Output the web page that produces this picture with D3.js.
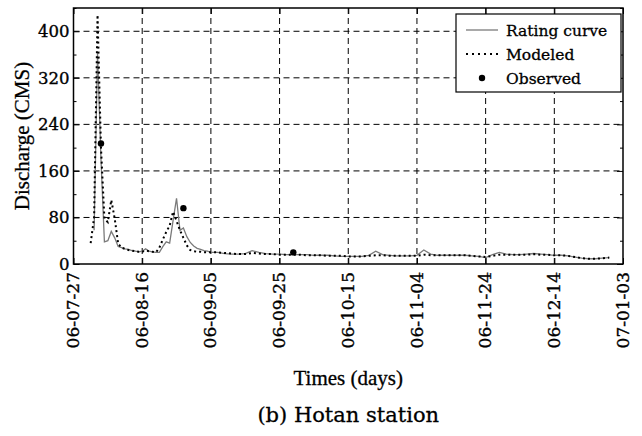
<!DOCTYPE html>
<html>
<head>
<meta charset="utf-8">
<script src="https://cdn.jsdelivr.net/npm/d3@7"></script>
<style>
  html, body { margin: 0; padding: 0; background: #fff; }
  svg { display: block; }
</style>
</head>
<body>
<svg id="chart" width="642" height="436"></svg>
<script>
// Hotan station daily discharge, days counted from 2006-07-27
const startDate = new Date(2006, 6, 27);

const dayOffsets = [
  5, 6, 7, 8, 9, 10, 11, 12, 13, 14, 15, 16, 17, 18, 19, 20, 21, 22, 23, 24,
  25, 26, 27, 28, 29, 30, 31, 32, 33, 34, 35, 36, 37, 38, 39, 40,
  42, 44, 46, 48, 50, 52, 54, 56, 58, 60, 62, 64, 66, 68, 70, 72, 74, 76, 78,
  80, 82, 84, 86, 88, 90, 92, 94, 96, 98, 100, 102, 104, 106, 108, 110, 112,
  114, 116, 118, 120, 122, 124, 126, 128, 130, 132, 134, 136, 138, 140, 142,
  144, 146, 148, 150, 152, 154, 156
];

const ratingCurve = [
  null, 58, 362, 180, 38, 40, 56, 45, 30, 28, 26, 25, 23, 22, 21, 22, 26, 22, 21, 20,
  20, 30, 38, 36, 75, 113, 58, 62, 47, 37, 31, 27, 25, 23, 22, 20,
  20, 18, 17, 17, 18, 23, 20, 18, 17, 17, 16, 16, 16, 16, 15, 15, 15, 14, 13,
  13, 13, 13, 15, 22, 16, 15, 14, 14, 14, 15, 24, 17, 15, 15, 15, 15,
  15, 14, 13, 11, 16, 20, 17, 16, 16, 17, 18, 17, 16, 15, 15,
  14, 12, 10, 9, 9, 10, 11
];

const modeled = [
  36, 80, 428, 200, 78, 72, 110, 78, 35, 28, 26, 24, 23, 22, 21, 21, 23, 22, 21, 20,
  28, 42, 55, 66, 90, 74, 58, 45, 32, 24, 22, 21, 21, 20, 20, 20,
  20, 19, 18, 17, 17, 19, 18, 17, 17, 16, 16, 16, 16, 15, 15, 15, 14, 14, 14,
  13, 13, 13, 14, 15, 15, 14, 14, 14, 14, 14, 16, 15, 15, 15, 15, 15,
  15, 14, 13, 12, 14, 16, 16, 16, 16, 16, 17, 16, 16, 15, 15,
  14, 12, 10, 9, 9, 10, 11
];

const observedDays = [8, 32, 64];
const observedValues = [207, 96, 20];

const tickDays = [0, 20, 40, 60, 80, 100, 120, 140, 160];
const yTicks = [0, 80, 160, 240, 320, 400];
const yMinorTicks = [40, 120, 200, 280, 360, 440];

const seriesNames = ["Rating curve", "Modeled", "Observed"];

const toDate = d => d3.timeDay.offset(startDate, d);

const plot = { left: 73.5, right: 623, top: 8, bottom: 264 };

const svg = d3.select("#chart");

const x = d3.scaleTime()
  .domain([toDate(0), toDate(160)])
  .range([plot.left, plot.right]);

const y = d3.scaleLinear()
  .domain([0, 440])
  .range([plot.bottom, plot.top]);

const fmt = d3.timeFormat("%y-%m-%d");
const tickDates = tickDays.map(toDate);

const serif = "'DejaVu Serif', serif";
const times = "'Liberation Serif', 'Times New Roman', serif";

// slightly heavier glyphs for the serif labels
const heavy = (sel, w) => sel.attr("stroke", "#000").attr("stroke-width", w).attr("paint-order", "stroke");

// grid
const grid = svg.append("g").attr("stroke", "#000").attr("stroke-width", 1)
  .attr("stroke-dasharray", "6,4").attr("fill", "none");
tickDates.slice(1, -1).forEach(d => {
  grid.append("line").attr("x1", x(d)).attr("x2", x(d))
    .attr("y1", plot.top).attr("y2", plot.bottom);
});
yTicks.slice(1).forEach(v => {
  grid.append("line").attr("x1", plot.left).attr("x2", plot.right)
    .attr("y1", y(v)).attr("y2", y(v));
});

// axes with inward ticks
const xBottom = svg.append("g")
  .attr("transform", `translate(0,${plot.bottom})`)
  .call(d3.axisBottom(x).tickValues(tickDates).tickFormat(fmt).tickSizeInner(-6).tickSizeOuter(0));
xBottom.select(".domain").remove();
xBottom.selectAll("line").attr("stroke", "#000");
xBottom.selectAll("text")
  .attr("font-family", serif).attr("font-size", 17).attr("fill", "#000")
  .attr("transform", "rotate(-90)")
  .attr("text-anchor", "end")
  .attr("x", -8).attr("y", 0).attr("dy", "0.3em")
  .call(heavy, 0.35);

const xTop = svg.append("g")
  .attr("transform", `translate(0,${plot.top})`)
  .call(d3.axisTop(x).tickValues(tickDates).tickFormat("").tickSizeInner(-6).tickSizeOuter(0));
xTop.select(".domain").remove();

const yLeft = svg.append("g")
  .attr("transform", `translate(${plot.left},0)`)
  .call(d3.axisLeft(y).tickValues(yTicks).tickSizeInner(-6).tickSizeOuter(0).tickPadding(4));
yLeft.select(".domain").remove();
yLeft.selectAll("text").attr("font-family", serif).attr("font-size", 16.5).attr("fill", "#000")
  .attr("x", -4)
  .call(heavy, 0.35);

const yLeftMinor = svg.append("g")
  .attr("transform", `translate(${plot.left},0)`)
  .call(d3.axisLeft(y).tickValues(yMinorTicks).tickFormat("").tickSizeInner(-3).tickSizeOuter(0));
yLeftMinor.select(".domain").remove();

const yRight = svg.append("g")
  .attr("transform", `translate(${plot.right},0)`)
  .call(d3.axisRight(y).tickValues(yTicks).tickFormat("").tickSizeInner(-6).tickSizeOuter(0));
yRight.select(".domain").remove();
const yRightMinor = svg.append("g")
  .attr("transform", `translate(${plot.right},0)`)
  .call(d3.axisRight(y).tickValues(yMinorTicks).tickFormat("").tickSizeInner(-3).tickSizeOuter(0));
yRightMinor.select(".domain").remove();

// series
const rows = dayOffsets.map((d, i) => ({ date: toDate(d), rating: ratingCurve[i], model: modeled[i] }));

svg.append("path")
  .datum(rows.filter(r => r.rating != null))
  .attr("fill", "none").attr("stroke", "#7a7a7a").attr("stroke-width", 1.3)
  .attr("d", d3.line().x(r => x(r.date)).y(r => y(r.rating)));

svg.append("path")
  .datum(rows.filter(r => r.model != null))
  .attr("fill", "none").attr("stroke", "#000").attr("stroke-width", 2)
  .attr("stroke-dasharray", "2,3")
  .attr("d", d3.line().x(r => x(r.date)).y(r => y(r.model)));

svg.append("g").selectAll("circle")
  .data(observedDays.map((d, i) => ({ date: toDate(d), v: observedValues[i] })))
  .join("circle")
  .attr("cx", r => x(r.date)).attr("cy", r => y(r.v)).attr("r", 3.2).attr("fill", "#000");

// frame
svg.append("rect")
  .attr("x", plot.left).attr("y", plot.top)
  .attr("width", plot.right - plot.left).attr("height", plot.bottom - plot.top)
  .attr("fill", "none").attr("stroke", "#000").attr("stroke-width", 1.5);

// legend
const lg = svg.append("g");
lg.append("rect").attr("x", 456).attr("y", 14).attr("width", 165).attr("height", 78)
  .attr("fill", "#fff").attr("stroke", "#000").attr("stroke-width", 1.2);
lg.append("line").attr("x1", 466).attr("x2", 498).attr("y1", 30).attr("y2", 30)
  .attr("stroke", "#7a7a7a").attr("stroke-width", 1.3);
lg.append("line").attr("x1", 466).attr("x2", 498).attr("y1", 54).attr("y2", 54)
  .attr("stroke", "#000").attr("stroke-width", 2).attr("stroke-dasharray", "2,4");
lg.append("circle").attr("cx", 482).attr("cy", 78).attr("r", 3.2).attr("fill", "#000");
seriesNames.forEach((name, i) => {
  lg.append("text").attr("x", 506).attr("y", 30 + i * 24).attr("dy", "0.36em")
    .attr("font-family", serif).attr("font-size", 15.5).attr("fill", "#000").text(name)
    .call(heavy, 0.3);
});

// axis titles
svg.append("text")
  .attr("transform", `translate(22,${(plot.top + plot.bottom) / 2}) rotate(-90)`)
  .attr("text-anchor", "middle").attr("dy", "0.35em")
  .attr("font-family", times).attr("font-size", 21).text("Discharge (CMS)")
  .call(heavy, 0.3);

svg.append("text")
  .attr("x", (plot.left + plot.right) / 2).attr("y", 385)
  .attr("text-anchor", "middle")
  .attr("font-family", times).attr("font-size", 21).text("Times (days)")
  .call(heavy, 0.3);

svg.append("text")
  .attr("x", (plot.left + plot.right) / 2).attr("y", 422)
  .attr("text-anchor", "middle")
  .attr("font-family", serif).attr("font-size", 21).text("(b) Hotan station")
  .call(heavy, 0.3);
</script>
</body>
</html>
